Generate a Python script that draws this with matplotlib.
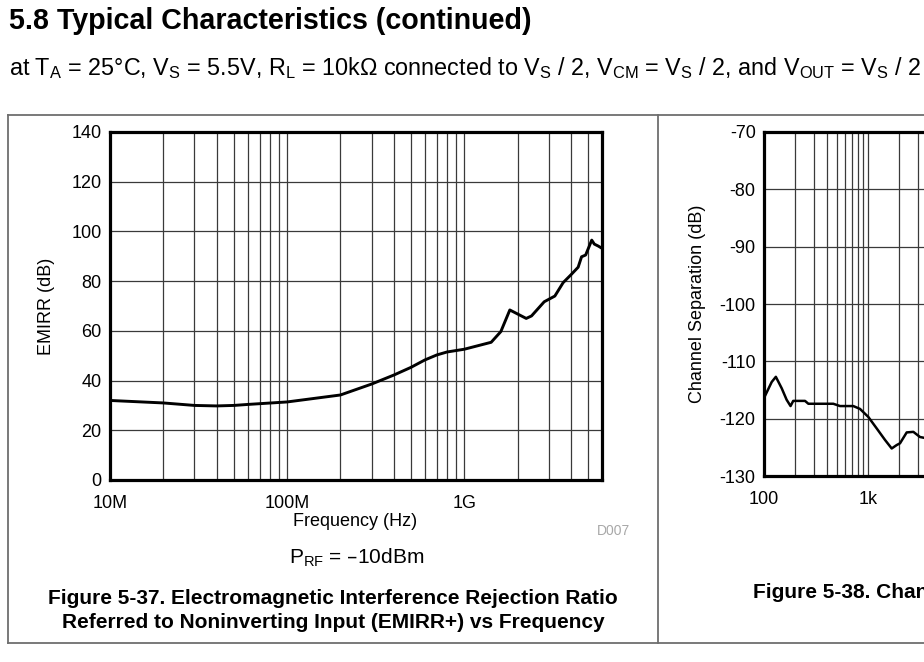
import matplotlib
matplotlib.use("Agg")
import matplotlib.pyplot as plt
from matplotlib.lines import Line2D
from matplotlib.ticker import FixedLocator, NullFormatter

plt.rcParams['font.family'] = ['Liberation Sans', 'DejaVu Sans']
plt.rcParams['mathtext.default'] = 'regular'
plt.rcParams['axes.unicode_minus'] = False

# ---------------- data ----------------
# Figure 5-37: EMIRR+ vs frequency
emirr_freq_hz = [10e6, 20e6, 30e6, 40e6, 50e6, 60e6, 100e6, 200e6, 300e6, 400e6,
                 500e6, 600e6, 700e6, 800e6, 1e9, 1.42e9, 1.61e9, 1.81e9, 2.24e9,
                 2.4e9, 2.83e9, 3.25e9, 3.62e9, 4.0e9, 4.4e9, 4.6e9, 4.85e9,
                 5.25e9, 5.43e9, 5.72e9, 6.0e9]
emirr_db = [32.0, 31.0, 30.0, 29.8, 30.0, 30.4, 31.4, 34.2, 38.6, 42.2,
            45.3, 48.3, 50.3, 51.5, 52.6, 55.4, 59.7, 68.4, 65.0,
            66.0, 71.7, 74.0, 79.4, 82.5, 85.6, 89.8, 90.5,
            96.5, 94.9, 94.1, 93.2]
emirr_yticks = [0, 20, 40, 60, 80, 100, 120, 140]
emirr_xticks = [10e6, 100e6, 1e9]
emirr_xticklabels = ['10M', '100M', '1G']

# Figure 5-38: channel separation vs frequency (visible part)
chsep_freq_hz = [100, 118.6, 130, 148, 165, 180, 191, 214, 248, 267, 345, 464,
                 538, 722, 838, 1007, 1212, 1456, 1690, 1888, 2031, 2355, 2730,
                 3162, 3600]
chsep_db = [-116.4, -113.6, -112.7, -114.7, -116.7, -117.8, -116.9, -116.9,
            -116.9, -117.4, -117.4, -117.4, -117.8, -117.8, -118.3, -119.7,
            -121.7, -123.7, -125.2, -124.6, -124.3, -122.4, -122.3, -123.2,
            -123.4]
chsep_yticks = [-130, -120, -110, -100, -90, -80, -70]
chsep_xticks = [100, 1000]
chsep_xticklabels = ['100', '1k']

# ---------------- figure ----------------
W, H = 924, 662
fig = plt.figure(figsize=(W / 100, H / 100), dpi=100)


def fx(px):
    return px / W


def fy(py):
    return 1 - py / H


def minor_locs(lo_dec, hi_dec):
    locs = []
    for d in range(lo_dec, hi_dec + 1):
        for m in range(1, 10):
            locs.append(m * 10.0 ** d)
    return locs


def style_axes(ax):
    for s in ax.spines.values():
        s.set_linewidth(2.3)
        s.set_color('black')
    ax.tick_params(which='both', length=0, labelsize=13)
    ax.tick_params(axis='y', pad=6)
    ax.tick_params(axis='x', pad=11)
    ax.grid(True, which='both', axis='x', color='#3a3a3a', lw=0.9)
    ax.grid(True, which='major', axis='y', color='#3a3a3a', lw=0.9)
    ax.set_axisbelow(True)


# Left chart
ax1 = fig.add_axes([fx(110), fy(480), fx(602 - 110), (480 - 132) / H])
ax1.plot(emirr_freq_hz, emirr_db, color='black', lw=2.1, solid_joinstyle='round')
ax1.set_xscale('log')
ax1.set_xlim(10e6, 6e9)
ax1.set_ylim(0, 140)
ax1.set_yticks(emirr_yticks)
ax1.xaxis.set_major_locator(FixedLocator(emirr_xticks))
ax1.set_xticklabels(emirr_xticklabels)
ax1.xaxis.set_minor_locator(FixedLocator(minor_locs(7, 9)))
ax1.xaxis.set_minor_formatter(NullFormatter())
style_axes(ax1)
ax1.set_ylabel('EMIRR (dB)', fontsize=13)
ax1.yaxis.set_label_coords((55 - 110) / (602 - 110), 0.5)

# Right chart (cut by figure edge)
ax2 = fig.add_axes([fx(764), fy(476), fx(104 * 4), (476 - 132) / H])
ax2.plot(chsep_freq_hz, chsep_db, color='black', lw=1.8)
ax2.set_xscale('log')
ax2.set_xlim(100, 1e6)
ax2.set_ylim(-130, -70)
ax2.set_yticks(chsep_yticks)
ax2.xaxis.set_major_locator(FixedLocator(chsep_xticks))
ax2.set_xticklabels(chsep_xticklabels)
ax2.xaxis.set_minor_locator(FixedLocator(minor_locs(2, 5)))
ax2.xaxis.set_minor_formatter(NullFormatter())
style_axes(ax2)
ax2.set_ylabel('Channel Separation (dB)', fontsize=13)
ax2.yaxis.set_label_coords((706 - 764) / (104 * 4), 0.5)

# Frame lines
frame_col = '#6e6e6e'
for (x0, y0, x1, y1) in [(8, 115, 930, 115), (8, 643, 930, 643),
                         (8, 115, 8, 643), (658, 115, 658, 643)]:
    fig.add_artist(Line2D([fx(x0), fx(x1)], [fy(y0), fy(y1)],
                          color=frame_col, lw=1.3, transform=fig.transFigure))

# Texts
fig.text(fx(9), fy(21), '5.8 Typical Characteristics (continued)',
         fontsize=20.6, fontweight='bold', ha='left', va='center')
fig.text(fx(9), fy(68),
         r'at T$_{A}$ = 25°C, V$_{S}$ = 5.5V, R$_{L}$ = 10kΩ connected to V$_{S}$ / 2, '
         r'V$_{CM}$ = V$_{S}$ / 2, and V$_{OUT}$ = V$_{S}$ / 2',
         fontsize=16.8, ha='left', va='center')
fig.text(fx(355), fy(522), 'Frequency (Hz)', fontsize=13, ha='center', va='center')
fig.text(fx(613), fy(531), 'D007', fontsize=10, color='#a8a8a8', ha='center', va='center')
fig.text(fx(357), fy(558), r'P$_{RF}$ = –10dBm', fontsize=15, ha='center', va='center')
fig.text(fx(333), fy(598), 'Figure 5-37. Electromagnetic Interference Rejection Ratio',
         fontsize=15, fontweight='bold', ha='center', va='center')
fig.text(fx(333), fy(623), 'Referred to Noninverting Input (EMIRR+) vs Frequency',
         fontsize=15, fontweight='bold', ha='center', va='center')
fig.text(fx(753), fy(593), 'Figure 5-38. Channel Separation vs Frequency',
         fontsize=15, fontweight='bold', ha='left', va='center')

fig.savefig('out.png', dpi=100)
